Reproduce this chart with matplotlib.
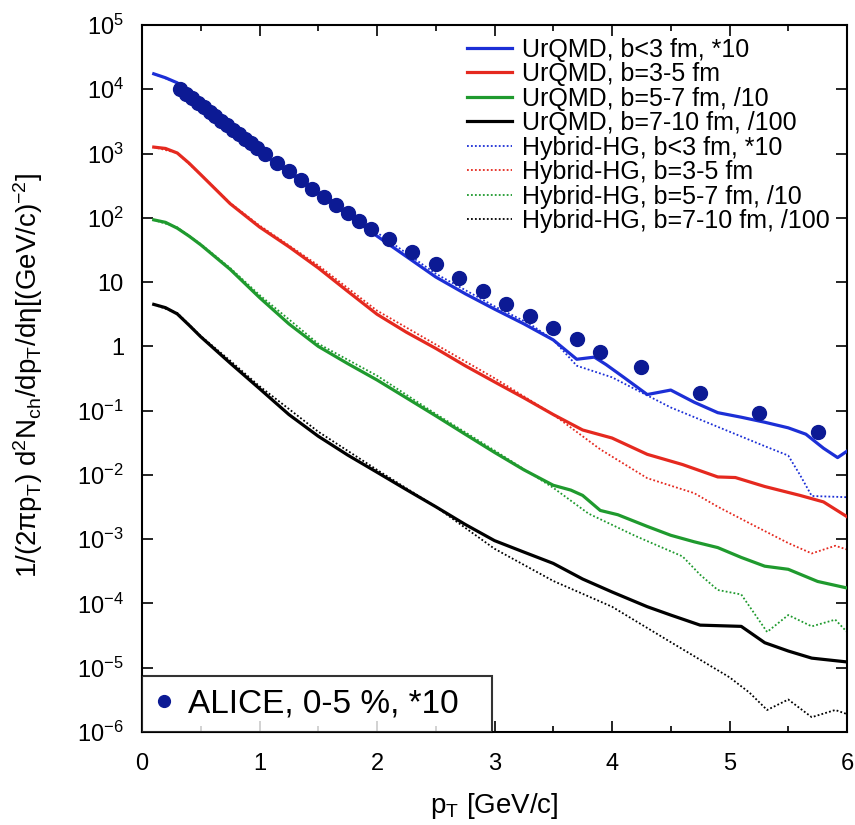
import numpy as np
import matplotlib
matplotlib.use("Agg")
import matplotlib.pyplot as plt
from matplotlib.ticker import LogLocator, FuncFormatter, MultipleLocator, NullLocator
from matplotlib.lines import Line2D

plt.rcParams["font.family"] = ["Liberation Sans", "DejaVu Sans"]
plt.rcParams["mathtext.fontset"] = "custom"
plt.rcParams["mathtext.rm"] = "Liberation Sans"
plt.rcParams["mathtext.it"] = "Liberation Sans"
plt.rcParams["mathtext.bf"] = "Liberation Sans:bold"
plt.rcParams["mathtext.sf"] = "Liberation Sans"

# ---- UrQMD (solid) ----
urqmd_b3_pt = [0.1, 0.2, 0.3, 0.4, 0.5, 0.75, 1.0, 1.25, 1.5, 1.75, 2.0, 2.25, 2.5, 2.75,
               3.0, 3.25, 3.5, 3.7, 3.85, 3.95, 4.1, 4.3, 4.5, 4.7, 4.9, 5.1, 5.3, 5.5,
               5.65, 5.8, 5.92, 6.0]
urqmd_b3 = [17400, 15100, 12600, 9300, 6800, 2510, 1050, 500, 240, 112, 52, 25, 12, 6.6,
            3.8, 2.24, 1.26, 0.63, 0.68, 0.52, 0.33, 0.178, 0.209, 0.135, 0.093, 0.079,
            0.066, 0.054, 0.043, 0.026, 0.0186, 0.0234]

urqmd_b35_pt = [0.1, 0.2, 0.3, 0.4, 0.5, 0.75, 1.0, 1.25, 1.5, 1.75, 2.0, 2.25, 2.5, 2.75,
                3.0, 3.25, 3.5, 3.75, 4.0, 4.3, 4.6, 4.9, 5.05, 5.3, 5.6, 5.8, 6.0]
urqmd_b35 = [1260, 1200, 1020, 710, 470, 166, 72, 35.5, 16.6, 7.2, 3.16, 1.66, 0.93, 0.50,
             0.28, 0.158, 0.087, 0.050, 0.0375, 0.0209, 0.0145, 0.0093, 0.0091, 0.0066,
             0.0048, 0.0038, 0.00224]

urqmd_b57_pt = [0.1, 0.2, 0.3, 0.4, 0.5, 0.75, 1.0, 1.25, 1.5, 1.75, 2.0, 2.25, 2.5, 2.75,
                3.0, 3.25, 3.5, 3.65, 3.75, 3.9, 4.05, 4.3, 4.5, 4.7, 4.9, 5.1, 5.3, 5.5,
                5.75, 6.0]
urqmd_b57 = [93, 85, 69, 52, 38, 15.8, 5.75, 2.24, 1.0, 0.54, 0.30, 0.158, 0.083, 0.043,
             0.0224, 0.0120, 0.0069, 0.0058, 0.0048, 0.0028, 0.0024, 0.00158, 0.00115,
             0.00091, 0.00074, 0.00052, 0.00038, 0.00034, 0.00022, 0.000174]

urqmd_b710_pt = [0.1, 0.2, 0.3, 0.4, 0.5, 0.75, 1.0, 1.25, 1.5, 1.75, 2.0, 2.25, 2.5, 2.75,
                 3.0, 3.25, 3.5, 3.75, 4.0, 4.3, 4.5, 4.75, 5.1, 5.3, 5.5, 5.7, 6.0]
urqmd_b710 = [4.5, 4.0, 3.2, 2.14, 1.41, 0.55, 0.22, 0.087, 0.040, 0.0204, 0.011, 0.0059,
              0.0032, 0.0017, 0.00095, 0.00063, 0.00042, 0.00024, 0.000151, 0.000089,
              0.000066, 0.000046, 0.000044, 0.0000245, 0.0000182, 0.0000141, 0.0000123]

# ---- Hybrid-HG (dotted) ----
hyb_b3_pt = [0.1, 0.3, 0.5, 0.75, 1.0, 1.5, 2.0, 2.5, 3.0, 3.3, 3.5, 3.7, 4.0, 4.5, 4.9,
             5.3, 5.5, 5.6, 5.7, 6.0]
hyb_b3 = [17400, 12600, 6800, 2570, 1120, 270, 59, 13.5, 4.2, 2.24, 1.26, 0.50, 0.33,
          0.112, 0.056, 0.028, 0.020, 0.010, 0.0047, 0.0045]

hyb_b35_pt = [0.1, 0.3, 0.5, 0.75, 1.0, 1.5, 2.0, 2.5, 3.0, 3.5, 3.9, 4.3, 4.7, 4.9, 5.2,
              5.5, 5.7, 5.9, 6.0]
hyb_b35 = [1260, 1020, 470, 170, 76, 18.2, 3.6, 1.07, 0.32, 0.087, 0.025, 0.0089, 0.0052,
           0.0032, 0.00166, 0.00087, 0.0006, 0.00079, 0.00069]

hyb_b57_pt = [0.1, 0.3, 0.5, 0.75, 1.0, 1.5, 2.0, 2.5, 3.0, 3.5, 3.8, 4.2, 4.6, 4.75, 4.9,
              5.1, 5.32, 5.5, 5.7, 5.9, 6.0]
hyb_b57 = [93, 71, 39, 16.6, 6.3, 1.10, 0.35, 0.089, 0.024, 0.0063, 0.0025, 0.00112,
           0.00054, 0.00028, 0.000162, 0.000138, 0.000036, 0.000066, 0.000044, 0.000056,
           0.000036]

hyb_b710_pt = [0.1, 0.3, 0.5, 0.75, 1.0, 1.5, 2.0, 2.5, 3.0, 3.5, 4.0, 4.5, 5.0, 5.17,
               5.32, 5.5, 5.7, 5.9, 6.0]
hyb_b710 = [4.5, 3.3, 1.45, 0.60, 0.24, 0.047, 0.012, 0.0032, 0.00071, 0.000224,
            0.000089, 0.000025, 0.0000071, 0.0000041, 0.0000022, 0.0000032, 0.0000017,
            0.0000022, 0.0000019]

# ---- ALICE 0-5 % (x10) ----
alice_pt = [0.325, 0.375, 0.425, 0.475, 0.525, 0.575, 0.625, 0.675, 0.725, 0.775, 0.825,
            0.875, 0.925, 0.975, 1.05, 1.15, 1.25, 1.35, 1.45, 1.55, 1.65, 1.75, 1.85,
            1.95, 2.1, 2.3, 2.5, 2.7, 2.9, 3.1, 3.3, 3.5, 3.7, 3.9, 4.25, 4.75, 5.25, 5.75]
alice = [10000, 8500, 7240, 6170, 5250, 4470, 3800, 3240, 2750, 2340, 2000, 1700, 1450,
         1230, 980, 720, 540, 390, 280, 214, 158, 117, 89, 68, 47, 29.5, 19, 11.7, 7.2,
         4.6, 2.95, 1.95, 1.32, 0.81, 0.47, 0.19, 0.093, 0.047]

labels_urqmd = ["UrQMD, b<3 fm, *10", "UrQMD, b=3-5 fm", "UrQMD, b=5-7 fm, /10",
                "UrQMD, b=7-10 fm, /100"]
labels_hybrid = ["Hybrid-HG, b<3 fm, *10", "Hybrid-HG, b=3-5 fm", "Hybrid-HG, b=5-7 fm, /10",
                 "Hybrid-HG, b=7-10 fm, /100"]
alice_label = "ALICE, 0-5 %, *10"

colors = ["#1c2fd6", "#e5291f", "#1f9a2e", "#000000"]
alice_color = "#0c1a94"

fig = plt.figure(figsize=(8.55, 8.25), dpi=100)
ax = fig.add_axes([142 / 855, 1 - 732 / 825, (847 - 142) / 855, (732 - 25) / 825])

urqmd = [(urqmd_b3_pt, urqmd_b3), (urqmd_b35_pt, urqmd_b35),
         (urqmd_b57_pt, urqmd_b57), (urqmd_b710_pt, urqmd_b710)]
hybrid = [(hyb_b3_pt, hyb_b3), (hyb_b35_pt, hyb_b35),
          (hyb_b57_pt, hyb_b57), (hyb_b710_pt, hyb_b710)]

handles = []
for (x, y), c, lab in zip(urqmd, colors, labels_urqmd):
    h, = ax.plot(x, y, color=c, lw=2.3, label=lab, zorder=3)
    handles.append(h)
for (x, y), c, lab in zip(hybrid, colors, labels_hybrid):
    h, = ax.plot(x, y, color=c, lw=1.3, linestyle=(0, (1, 1.2)), label=lab, zorder=2)
    handles.append(h)

ax.plot(alice_pt, alice, "o", color=alice_color, ms=10, mec=alice_color, zorder=4)

ax.set_yscale("log")
ax.set_xlim(0, 6)
ax.set_ylim(1e-6, 1e5)


def ylab(v, pos):
    e = int(round(np.log10(v)))
    if e == 0:
        return "1"
    if e == 1:
        return "10"
    return r"$10^{%d}$" % e


ax.yaxis.set_major_locator(LogLocator(base=10, numticks=20))
ax.yaxis.set_major_formatter(FuncFormatter(ylab))
ax.yaxis.set_minor_locator(NullLocator())
ax.xaxis.set_major_locator(MultipleLocator(1))
ax.xaxis.set_minor_locator(MultipleLocator(0.5))
ax.xaxis.set_major_formatter(FuncFormatter(lambda v, p: "%d" % v))

ax.tick_params(which="both", direction="in", top=True, right=True, width=1.2, labelsize=17)
ax.tick_params(which="major", length=8)
ax.tick_params(which="minor", length=4)
ax.tick_params(axis="x", pad=15)
ax.tick_params(axis="y", pad=13)
for s in ax.spines.values():
    s.set_linewidth(1.5)

ax.set_xlabel(r"p$_{T}$ [GeV/c]", fontsize=20)
ax.xaxis.set_label_coords(0.5, -0.084)
ax.set_ylabel(r"1/(2$\pi$p$_{T}$) d$^{2}$N$_{ch}$/dp$_{T}$/d$\eta$[(GeV/c)$^{-2}$]", fontsize=20)
ax.yaxis.set_label_coords(-0.137, 0.505)

leg1 = ax.legend(handles=handles, loc="upper left", bbox_to_anchor=(0.461, 0.982),
                 frameon=False, fontsize=18, handlelength=1.8, handletextpad=0.4,
                 labelspacing=0.02, borderpad=0, borderaxespad=0)
ax.add_artist(leg1)

leg2 = ax.legend([Line2D([], [], marker="o", ls="none", color=alice_color, ms=8.5)],
                 [alice_label], loc="lower left",
                 bbox_to_anchor=(0, 0, 350 / 705, 0.09), mode="expand",
                 fontsize=24, frameon=True, fancybox=False, edgecolor="black",
                 borderaxespad=0, handlelength=0.55, handletextpad=0.45, borderpad=0.38)
leg2.get_frame().set_linewidth(1.5)

fig.savefig("out.png", dpi=100, facecolor="white")
